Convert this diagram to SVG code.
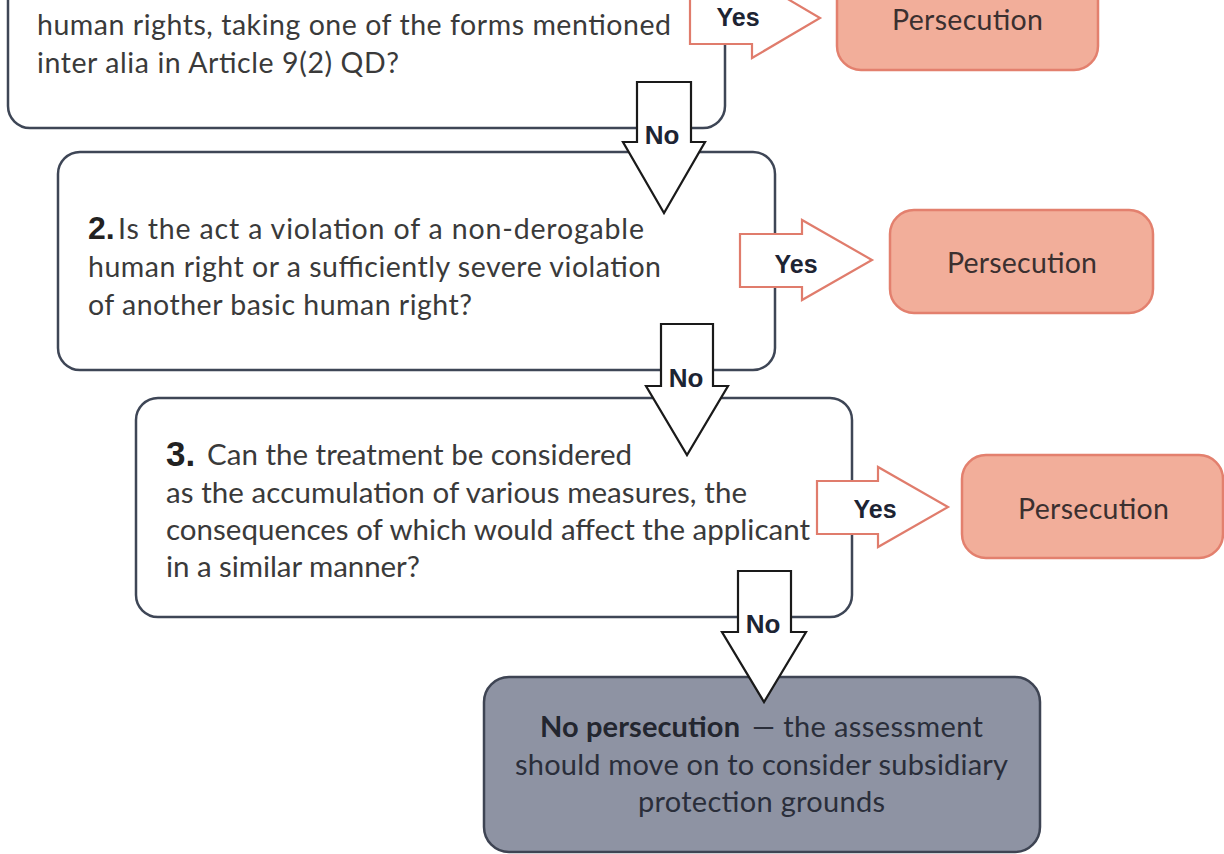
<svg xmlns="http://www.w3.org/2000/svg" width="1224" height="854" viewBox="0 0 1224 854">
<style>
  .q { fill: #ffffff; stroke: #3e4656; stroke-width: 2.5; }
  .p { fill: #f2ae9a; stroke: #e3806e; stroke-width: 2.5; }
  .f { fill: #8e93a3; stroke: #3e4453; stroke-width: 2.5; }
  .t { font-family: Lato, "Liberation Sans", sans-serif; font-size: 28.5px; fill: #3a3a3a; }
  .t3 { font-size: 29.5px; }
  .num { font-family: "Liberation Sans", Lato, sans-serif; font-size: 32px; font-weight: bold; fill: #222222; }
  .num3 { font-size: 35px; }
  .pt { font-family: Lato, "Liberation Sans", sans-serif; font-size: 28.5px; fill: #3b3030; }
  .ft { font-family: Lato, "Liberation Sans", sans-serif; font-size: 29px; fill: #2a2e3a; }
  .ftb { font-family: Lato, "Liberation Sans", sans-serif; font-size: 29px; font-weight: bold; fill: #23262f; }
  .no { fill: #ffffff; stroke: #1a1a1a; stroke-width: 2.2; stroke-linejoin: miter; }
  .yes { fill: #ffffff; stroke: #e07c6c; stroke-width: 2.2; stroke-linejoin: miter; }
  .lbl { font-family: "Liberation Sans", Lato, sans-serif; font-size: 25px; font-weight: bold; fill: #1d2433; text-anchor: middle; }
  .lno { font-size: 26px; }
</style>

<g id="node-q1">
  <rect class="q" x="8" y="-40" width="717" height="168" rx="22"/>
  <text class="t" x="37" y="35" textLength="634">human rights, taking one of the forms mentioned</text>
  <text class="t" x="37" y="73" textLength="362">inter alia in Article 9(2) QD?</text>
</g>

<g id="node-p1">
  <rect class="p" x="837" y="-32" width="261" height="102" rx="24"/>
  <text class="pt" x="892" y="30" textLength="151">Persecution</text>
</g>

<g id="node-q2">
  <rect class="q" x="58" y="152" width="717" height="218" rx="22"/>
  <text class="num" x="88" y="239">2.</text>
  <text class="t" x="118" y="239" textLength="526">Is the act a violation of a non-derogable</text>
  <text class="t" x="88" y="277" textLength="573">human right or a sufficiently severe violation</text>
  <text class="t" x="88" y="315" textLength="384">of another basic human right?</text>
</g>

<g id="node-p2">
  <rect class="p" x="890" y="210" width="263" height="103" rx="24"/>
  <text class="pt" x="947" y="273" textLength="150">Persecution</text>
</g>

<g id="node-q3">
  <rect class="q" x="136" y="398" width="716" height="219" rx="22"/>
  <text class="num num3" x="166" y="466">3.</text>
  <text class="t t3" x="207" y="465" textLength="425">Can the treatment be considered</text>
  <text class="t t3" x="166" y="503" textLength="581">as the accumulation of various measures, the</text>
  <text class="t t3" x="166" y="540" textLength="644">consequences of which would affect the applicant</text>
  <text class="t t3" x="166" y="577" textLength="254">in a similar manner?</text>
</g>

<g id="node-p3">
  <rect class="p" x="962" y="455" width="261" height="103" rx="24"/>
  <text class="pt" x="1018" y="519" textLength="151">Persecution</text>
</g>

<g id="node-final">
  <rect class="f" x="484" y="677" width="556" height="175" rx="25"/>
  <text class="ftb" x="540" y="737" textLength="200">No persecution</text>
  <text class="ft" x="752" y="737" textLength="231">— the assessment</text>
  <text class="ft" x="515" y="775" textLength="493">should move on to consider subsidiary</text>
  <text class="ft" x="638" y="812" textLength="247">protection grounds</text>
</g>

<g id="connectors">
  <g id="yes-1">
    <path class="yes" d="M690,-9 H752 V-22 L820,18 L752,58 V44 H690 Z"/>
    <text class="lbl" x="738" y="26">Yes</text>
  </g>
  <g id="no-1">
    <path class="no" d="M637,82 H691 V142 H705 L664,213 L623,142 H637 Z"/>
    <text class="lbl lno" x="662" y="144">No</text>
  </g>
  <g id="yes-2">
    <path class="yes" d="M740,234 H802 V220 L872,260 L802,300 V287 H740 Z"/>
    <text class="lbl" x="796" y="273">Yes</text>
  </g>
  <g id="no-2">
    <path class="no" d="M661,324 H713 V386 H728 L687,455 L646,386 H661 Z"/>
    <text class="lbl lno" x="686" y="387">No</text>
  </g>
  <g id="yes-3">
    <path class="yes" d="M817,481 H878 V467 L948,507 L878,547 V534 H817 Z"/>
    <text class="lbl" x="875" y="518">Yes</text>
  </g>
  <g id="no-3">
    <path class="no" d="M738,571 H791 V632 H806 L764,702 L722,632 H738 Z"/>
    <text class="lbl lno" x="763" y="633">No</text>
  </g>
</g>
</svg>
